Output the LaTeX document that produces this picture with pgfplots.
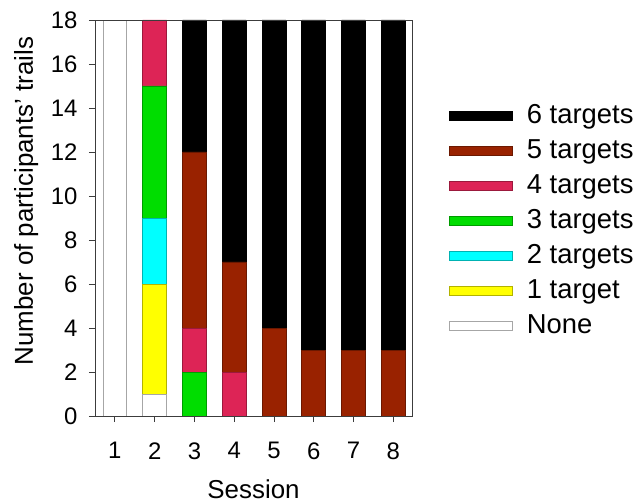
\documentclass[border=0pt]{standalone}
\usepackage{pgfplots}
\pgfplotsset{compat=1.18}
\usepackage{fontspec}
\setmainfont{Liberation Sans}
\definecolor{c6}{RGB}{0,0,0}
\definecolor{c5}{RGB}{153,34,0}
\definecolor{c4}{RGB}{221,36,86}
\definecolor{c3}{RGB}{0,221,0}
\definecolor{c2}{RGB}{0,255,255}
\definecolor{c1}{RGB}{255,255,0}
\definecolor{c0}{RGB}{255,255,255}
\definecolor{axgray}{RGB}{60,60,60}
\pgfplotsset{
  myleg/.style={legend image code/.code={\draw[##1,line width=0.8bp] (0bp,-3.5bp) rectangle (63bp,5.5bp);}}
}
\begin{document}
\begin{tikzpicture}
\path[use as bounding box] (-95bp,-87bp) rectangle (545bp,416bp);
\begin{axis}[
  at={(0,0)}, anchor=south west,
  scale only axis,
  width=317bp, height=396bp,
  xmin=0.5, xmax=8.47,
  ymin=0, ymax=18,
  ybar stacked,
  bar width=0.6,
  axis on top,
  axis line style={axgray, line width=0.9bp},
  xtick={1,2,3,4,5,6,7,8},
  ytick={0,2,4,6,8,10,12,14,16,18},
  tick align=outside,
  tick pos=left,
  major tick length=6bp,
  tick style={axgray, line width=0.9bp},
  /pgf/number format/assume math mode=true,
  ticklabel style={font=\fontsize{24}{24}\selectfont},
  xticklabel style={yshift=-17bp},
  yticklabel style={xshift=-8bp},
  xlabel={Session},
  ylabel={Number of participants' trails},
  label style={font=\fontsize{26}{26}\selectfont},
  xlabel style={at={(axis description cs:0.5,-0.2071)}, anchor=base},
  ylabel style={at={(axis description cs:-0.1956,0.5429)}, anchor=base},
  legend style={draw=none, fill=none, at={(axis description cs:1.107,0.7924)}, anchor=north west,
    font=\fontsize{27.5}{27.5}\selectfont, row sep=11bp,
    nodes={inner sep=0pt, text height=19bp, text depth=5bp},
    /tikz/every odd column/.append style={column sep=14bp}},
  legend cell align=left,
  reverse legend,
]
\addplot[fill=c0, draw=black!35, line width=0.8bp, myleg] coordinates {(1,18) (2,1) (3,0) (4,0) (5,0) (6,0) (7,0) (8,0)};
\addplot[fill=c1, draw=c1!70!black, line width=0.8bp, myleg] coordinates {(1,0) (2,5) (3,0) (4,0) (5,0) (6,0) (7,0) (8,0)};
\addplot[fill=c2, draw=c2!70!black, line width=0.8bp, myleg] coordinates {(1,0) (2,3) (3,0) (4,0) (5,0) (6,0) (7,0) (8,0)};
\addplot[fill=c3, draw=c3!70!black, line width=0.8bp, myleg] coordinates {(1,0) (2,6) (3,2) (4,0) (5,0) (6,0) (7,0) (8,0)};
\addplot[fill=c4, draw=c4!70!black, line width=0.8bp, myleg] coordinates {(1,0) (2,3) (3,2) (4,2) (5,0) (6,0) (7,0) (8,0)};
\addplot[fill=c5, draw=c5!70!black, line width=0.8bp, myleg] coordinates {(1,0) (2,0) (3,8) (4,5) (5,4) (6,3) (7,3) (8,3)};
\addplot[fill=c6, draw=c6, line width=0.8bp, myleg] coordinates {(1,0) (2,0) (3,6) (4,11) (5,14) (6,15) (7,15) (8,15)};
\legend{None, 1 target, 2 targets, 3 targets, 4 targets, 5 targets, 6 targets}
\end{axis}
\end{tikzpicture}
\end{document}
